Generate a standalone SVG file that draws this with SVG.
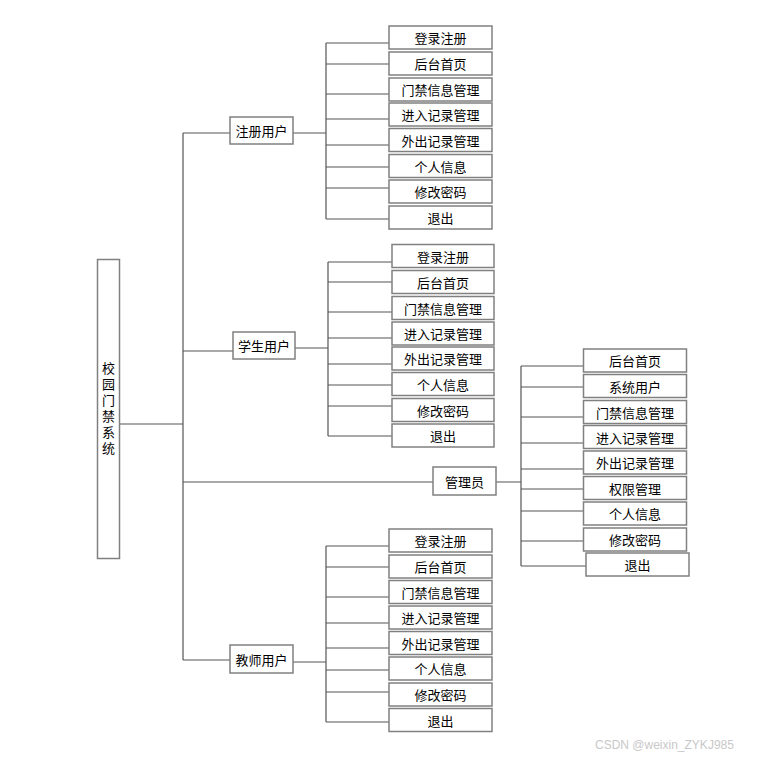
<svg xmlns="http://www.w3.org/2000/svg" width="761" height="758" viewBox="0 0 761 758">
<style>
.b{fill:#fff;stroke:#808080;stroke-width:1.5}
.t{font-family:"Noto Sans CJK SC","Noto Sans",sans-serif;font-size:13px;fill:#000;text-anchor:middle;dominant-baseline:central}
.v{font-family:"Noto Sans CJK SC","Noto Sans",sans-serif;font-size:13px;fill:#000;text-anchor:middle;writing-mode:vertical-rl;letter-spacing:3px}
#conn path{fill:none;stroke:#555;stroke-width:1.2}
.w{font-family:"Liberation Sans",sans-serif;font-size:12px;fill:#c8c8c8}
</style>
<rect width="761" height="758" fill="#fff"/>
<g id="conn">
<path d="M120,424H183M183,133V660M183,133H230M183,351H233M183,482H433M183,660H230"/>
<path d="M293,133H326M326,43V219M326,43H389M326,64H389M326,94H389M326,119H389M326,145H389M326,167H389M326,188H389M326,219H389"/>
<path d="M295,348H328M328,262V436M328,262H392M328,282H392M328,312H392M328,338H392M328,364H392M328,385H392M328,406H392M328,436H392"/>
<path d="M496,482H521M521,366V566M521,366H583M521,387H583M521,417H583M521,443H583M521,469H583M521,489H583M521,511H583M521,541H583M521,566H586"/>
<path d="M293,662H326M326,546V722M326,546H389M326,567H389M326,597H389M326,623H389M326,648H389M326,670H389M326,692H389M326,722H389"/>
</g>
<g id="root"><rect class="b" x="97.5" y="259.5" width="22" height="299"/>
<text class="v" x="108.5" y="409.5">校园门禁系统</text></g>
<g id="reg"><rect class="b" x="230" y="117" width="63" height="27"/><text class="t" x="261.5" y="130.5">注册用户</text></g>
<g id="reg1"><rect class="b" x="389" y="26" width="103" height="23"/><text class="t" x="440.5" y="37.5">登录注册</text></g>
<g id="reg2"><rect class="b" x="389" y="52" width="103" height="23"/><text class="t" x="440.5" y="63.5">后台首页</text></g>
<g id="reg3"><rect class="b" x="389" y="78" width="103" height="23"/><text class="t" x="440.5" y="89.5">门禁信息管理</text></g>
<g id="reg4"><rect class="b" x="389" y="103" width="103" height="23"/><text class="t" x="440.5" y="114.5">进入记录管理</text></g>
<g id="reg5"><rect class="b" x="389" y="128.5" width="103" height="23"/><text class="t" x="440.5" y="140">外出记录管理</text></g>
<g id="reg6"><rect class="b" x="389" y="154.5" width="103" height="23"/><text class="t" x="440.5" y="166">个人信息</text></g>
<g id="reg7"><rect class="b" x="389" y="180" width="103" height="23"/><text class="t" x="440.5" y="191.5">修改密码</text></g>
<g id="reg8"><rect class="b" x="389" y="206" width="103" height="23"/><text class="t" x="440.5" y="217.5">退出</text></g>
<g id="stu"><rect class="b" x="233" y="332" width="62" height="27"/><text class="t" x="264" y="345.5">学生用户</text></g>
<g id="stu1"><rect class="b" x="392" y="244.5" width="102" height="23"/><text class="t" x="443" y="256">登录注册</text></g>
<g id="stu2"><rect class="b" x="392" y="270.5" width="102" height="23"/><text class="t" x="443" y="282">后台首页</text></g>
<g id="stu3"><rect class="b" x="392" y="296.5" width="102" height="23"/><text class="t" x="443" y="308">门禁信息管理</text></g>
<g id="stu4"><rect class="b" x="392" y="322" width="102" height="23"/><text class="t" x="443" y="333.5">进入记录管理</text></g>
<g id="stu5"><rect class="b" x="392" y="347" width="102" height="23"/><text class="t" x="443" y="358.5">外出记录管理</text></g>
<g id="stu6"><rect class="b" x="392" y="372.5" width="102" height="23"/><text class="t" x="443" y="384">个人信息</text></g>
<g id="stu7"><rect class="b" x="392" y="398.5" width="102" height="23"/><text class="t" x="443" y="410">修改密码</text></g>
<g id="stu8"><rect class="b" x="392" y="424" width="102" height="23"/><text class="t" x="443" y="435.5">退出</text></g>
<g id="adm"><rect class="b" x="433" y="467" width="63" height="28"/><text class="t" x="464.5" y="481">管理员</text></g>
<g id="adm1"><rect class="b" x="583.5" y="349" width="103" height="23"/><text class="t" x="635" y="360.5">后台首页</text></g>
<g id="adm2"><rect class="b" x="583.5" y="374.5" width="103" height="23"/><text class="t" x="635" y="386">系统用户</text></g>
<g id="adm3"><rect class="b" x="583.5" y="400.5" width="103" height="23"/><text class="t" x="635" y="412">门禁信息管理</text></g>
<g id="adm4"><rect class="b" x="583.5" y="425.5" width="103" height="23"/><text class="t" x="635" y="437">进入记录管理</text></g>
<g id="adm5"><rect class="b" x="583.5" y="451" width="103" height="23"/><text class="t" x="635" y="462.5">外出记录管理</text></g>
<g id="adm6"><rect class="b" x="583.5" y="476.5" width="103" height="23"/><text class="t" x="635" y="488">权限管理</text></g>
<g id="adm7"><rect class="b" x="583.5" y="502" width="103" height="23"/><text class="t" x="635" y="513.5">个人信息</text></g>
<g id="adm8"><rect class="b" x="583.5" y="528" width="103" height="23"/><text class="t" x="635" y="539.5">修改密码</text></g>
<g id="adm9"><rect class="b" x="586" y="553" width="103" height="23"/><text class="t" x="637.5" y="564.5">退出</text></g>
<g id="tea"><rect class="b" x="230" y="645" width="63" height="28"/><text class="t" x="261.5" y="659">教师用户</text></g>
<g id="tea1"><rect class="b" x="389" y="529" width="103" height="23"/><text class="t" x="440.5" y="540.5">登录注册</text></g>
<g id="tea2"><rect class="b" x="389" y="555" width="103" height="23"/><text class="t" x="440.5" y="566.5">后台首页</text></g>
<g id="tea3"><rect class="b" x="389" y="580.5" width="103" height="23"/><text class="t" x="440.5" y="592">门禁信息管理</text></g>
<g id="tea4"><rect class="b" x="389" y="606" width="103" height="23"/><text class="t" x="440.5" y="617.5">进入记录管理</text></g>
<g id="tea5"><rect class="b" x="389" y="631.5" width="103" height="23"/><text class="t" x="440.5" y="643">外出记录管理</text></g>
<g id="tea6"><rect class="b" x="389" y="657" width="103" height="23"/><text class="t" x="440.5" y="668.5">个人信息</text></g>
<g id="tea7"><rect class="b" x="389" y="683" width="103" height="23"/><text class="t" x="440.5" y="694.5">修改密码</text></g>
<g id="tea8"><rect class="b" x="389" y="708.5" width="103" height="23"/><text class="t" x="440.5" y="720">退出</text></g>
<text class="w" x="595" y="749">CSDN @weixin_ZYKJ985</text>
</svg>
